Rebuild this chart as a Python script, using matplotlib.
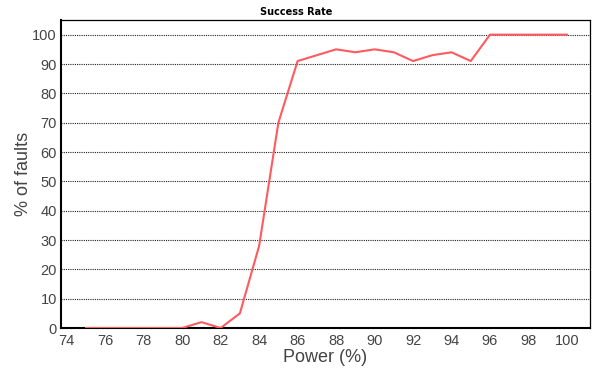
import matplotlib
matplotlib.use("Agg")
import matplotlib.pyplot as plt

power = [75, 76, 77, 78, 79, 80, 81, 82, 83, 84, 85, 86, 87, 88, 89, 90,
         91, 92, 93, 94, 95, 96, 97, 98, 99, 100]
success = [0, 0, 0, 0, 0, 0, 2, 0, 5, 28, 70, 91, 93, 95, 94, 95,
           94, 91, 93, 94, 91, 100, 100, 100, 100, 100]
x_ticks = list(range(74, 101, 2))
y_ticks = list(range(0, 101, 10))

plt.rcParams['font.family'] = ['Liberation Sans', 'DejaVu Sans']

fig = plt.figure(figsize=(5.92, 3.71), dpi=100)
ax = fig.add_axes([61 / 592, 1 - 328 / 371, 529 / 592, 308 / 371])

ax.plot(power, success, color='#ff5a5f', linewidth=1.5, zorder=3)

ax.set_xlim(73.7, 101.2)
ax.set_ylim(0, 105)
ax.set_xticks(x_ticks)
ax.set_yticks(y_ticks)
ax.yaxis.grid(True, linestyle=(0, (1, 1)), color='#222222', linewidth=0.8)
ax.set_axisbelow(True)

ax.tick_params(axis='both', labelsize=10.5, labelcolor='#444444', length=0)
ax.tick_params(axis='x', pad=4)
ax.tick_params(axis='y', pad=3)

for side in ['top', 'right']:
    ax.spines[side].set_linewidth(0.9)
for side in ['left', 'bottom']:
    ax.spines[side].set_linewidth(1.5)

ax.set_xlabel('Power (%)', fontsize=13, color='#444444', labelpad=1)
ax.set_ylabel('% of faults', fontsize=13, color='#444444', labelpad=0)
fig.text(0.5, 1 - 12 / 371, 'Success Rate', ha='center', va='center',
         fontsize=7, fontweight='bold', color='black', family='DejaVu Sans')

fig.savefig('out.png', dpi=100)
